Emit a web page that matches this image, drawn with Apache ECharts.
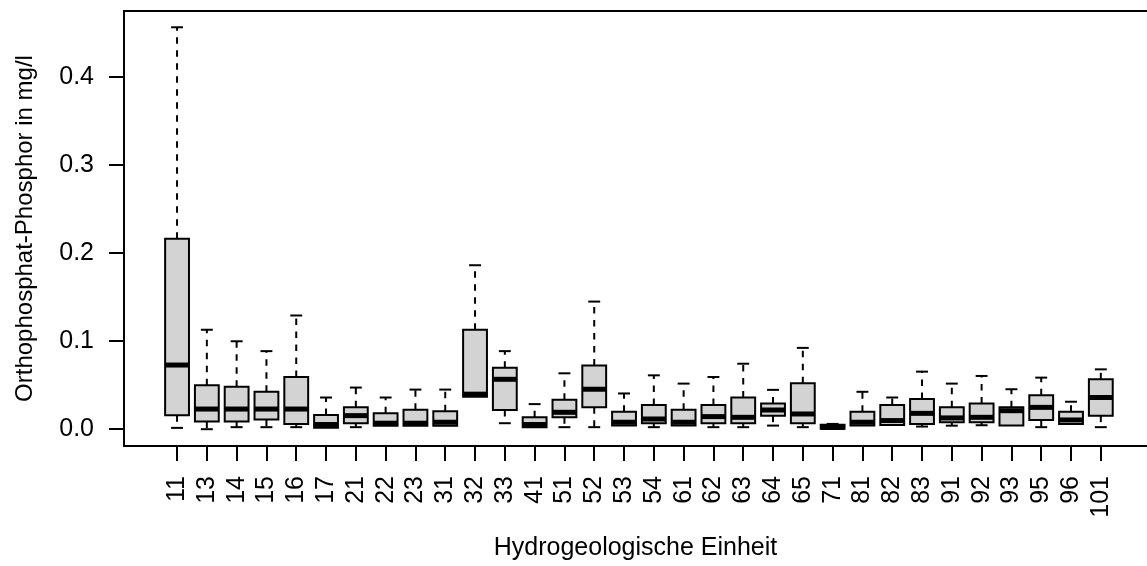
<!DOCTYPE html>
<html>
<head>
<meta charset="utf-8">
<script src="https://cdn.jsdelivr.net/npm/echarts@6/dist/echarts.min.js"></script>
<style>
html,body{margin:0;padding:0;background:#fff;}
#chart{width:1147px;height:566px;}
</style>
</head>
<body>
<div id="chart"></div>
<script>
// ---- data ----
var categories = ['11','13','14','15','16','17','21','22','23','31','32','33','41','51','52','53','54','61','62','63','64','65','71','81','82','83','91','92','93','95','96','101'];
var mins    = [0.0015,0.0000,0.0023,0.0023,0.0023,0.0015,0.0023,0.0038,0.0038,0.0038,0.0368,0.0068,0.0023,0.0023,0.0023,0.0041,0.0023,0.0041,0.0023,0.0023,0.0041,0.0023,0.0005,0.0041,0.0049,0.0030,0.0040,0.0045,0.0041,0.0023,0.0060,0.0023];
var q1s     = [0.0158,0.0087,0.0087,0.0109,0.0060,0.0015,0.0068,0.0038,0.0038,0.0038,0.0368,0.0218,0.0023,0.0135,0.0248,0.0041,0.0068,0.0041,0.0068,0.0068,0.0154,0.0068,0.0005,0.0041,0.0049,0.0060,0.0079,0.0079,0.0041,0.0105,0.0060,0.0154];
var medians = [0.0729,0.0229,0.0229,0.0229,0.0229,0.0053,0.0154,0.0068,0.0068,0.0079,0.0398,0.0567,0.0053,0.0192,0.0454,0.0079,0.0116,0.0079,0.0143,0.0135,0.0218,0.0173,0.0020,0.0079,0.0098,0.0180,0.0128,0.0135,0.0210,0.0248,0.0105,0.0360];
var q3s     = [0.2163,0.0499,0.0481,0.0425,0.0593,0.0162,0.0248,0.0180,0.0222,0.0203,0.1130,0.0699,0.0135,0.0334,0.0725,0.0199,0.0274,0.0222,0.0274,0.0360,0.0293,0.0522,0.0050,0.0199,0.0274,0.0342,0.0248,0.0293,0.0248,0.0387,0.0199,0.0567];
var maxs    = [0.4567,0.1130,0.0999,0.0887,0.1292,0.0360,0.0473,0.0360,0.0450,0.0450,0.1863,0.0887,0.0285,0.0635,0.1450,0.0406,0.0612,0.0518,0.0593,0.0744,0.0447,0.0924,0.0060,0.0425,0.0360,0.0654,0.0518,0.0605,0.0454,0.0586,0.0312,0.0680];
var yTicks  = [0.0, 0.1, 0.2, 0.3, 0.4];
var yTitle = 'Orthophosphat-Phosphor in mg/l';
var xTitle = 'Hydrogeologische Einheit';

// ---- build ----
var positions = categories.map(function(c, i){ return i + 1; });
var rows = categories.map(function(c, i){
  return [positions[i], mins[i], q1s[i], medians[i], q3s[i], maxs[i]];
});

var FONT = 'Liberation Sans, Arial, sans-serif';
var FS = 25;
var INK = '#000';
var LW = 2;
var X_MIN = -0.78, X_MAX = 33.55;

function renderItem(params, api) {
  var x = api.value(0);
  var vMin = api.value(1), vQ1 = api.value(2), vMed = api.value(3), vQ3 = api.value(4), vMax = api.value(5);
  var bw = api.size([0.8, 0])[0];
  var cw = bw * 0.5;
  var pMin = api.coord([x, vMin]), pQ1 = api.coord([x, vQ1]), pMed = api.coord([x, vMed]);
  var pQ3 = api.coord([x, vQ3]), pMax = api.coord([x, vMax]);
  var cx = pQ1[0];
  var children = [];
  children.push({type:'rect', shape:{x:cx-bw/2, y:pQ3[1], width:bw, height:pQ1[1]-pQ3[1]},
    style:{fill:'#D3D3D3', stroke:null}});
  var dash = {stroke:INK, lineWidth:LW, lineDash:[6.5,6.5]};
  if (vMax > vQ3) {
    children.push({type:'line', shape:{x1:cx, y1:pQ3[1], x2:cx, y2:pMax[1]}, style:dash});
    children.push({type:'line', shape:{x1:cx-cw/2, y1:pMax[1], x2:cx+cw/2, y2:pMax[1]}, style:{stroke:INK, lineWidth:LW}});
  }
  if (vMin < vQ1) {
    children.push({type:'line', shape:{x1:cx, y1:pQ1[1], x2:cx, y2:pMin[1]}, style:dash});
    children.push({type:'line', shape:{x1:cx-cw/2, y1:pMin[1], x2:cx+cw/2, y2:pMin[1]}, style:{stroke:INK, lineWidth:LW}});
  }
  children.push({type:'rect', shape:{x:cx-bw/2, y:pQ3[1], width:bw, height:pQ1[1]-pQ3[1]},
    style:{fill:null, stroke:INK, lineWidth:LW}});
  children.push({type:'line', shape:{x1:cx-bw/2, y1:pMed[1], x2:cx+bw/2, y2:pMed[1]}, style:{stroke:INK, lineWidth:5}});
  return {type:'group', children:children};
}

var chart = echarts.init(document.getElementById('chart'), null, {renderer:'canvas'});
chart.setOption({
  animation: false,
  backgroundColor: '#fff',
  grid: {left:124, top:11, right:0, height:438, show:false},
  xAxis: [{
    type:'value', min:X_MIN, max:X_MAX, position:'bottom',
    axisLine:{show:true, onZero:false, lineStyle:{color:INK, width:LW}},
    splitLine:{show:false},
    axisTick:{show:true, length:15, lineStyle:{color:INK, width:LW}, customValues:positions},
    axisLabel:{show:true, rotate:90, margin:30, color:INK, fontFamily:FONT, fontSize:FS, customValues:positions,
      formatter:function(v){ return categories[Math.round(v)-1] || ''; }},
    name:xTitle, nameLocation:'middle', nameGap:90,
    nameTextStyle:{color:INK, fontFamily:FONT, fontSize:FS}
  }, {
    type:'value', min:X_MIN, max:X_MAX, position:'top',
    axisLine:{show:true, onZero:false, lineStyle:{color:INK, width:LW}},
    splitLine:{show:false}, axisTick:{show:false}, axisLabel:{show:false}
  }],
  yAxis: {
    type:'value', min:-0.0191, max:0.4752,
    axisLine:{show:true, onZero:false, lineStyle:{color:INK, width:LW}},
    splitLine:{show:false},
    axisTick:{show:true, length:15, lineStyle:{color:INK, width:LW}, customValues:yTicks},
    axisLabel:{show:true, margin:30, color:INK, fontFamily:FONT, fontSize:FS, customValues:yTicks,
      formatter:function(v){ return v.toFixed(1); }},
    name:yTitle, nameLocation:'middle', nameRotate:90, nameGap:87,
    nameTextStyle:{color:INK, fontFamily:FONT, fontSize:24}
  },
  series: [{
    type:'custom',
    renderItem: renderItem,
    encode:{x:0, y:[1,2,3,4,5]},
    data: rows,
    clip:false
  }]
});
</script>
</body>
</html>
